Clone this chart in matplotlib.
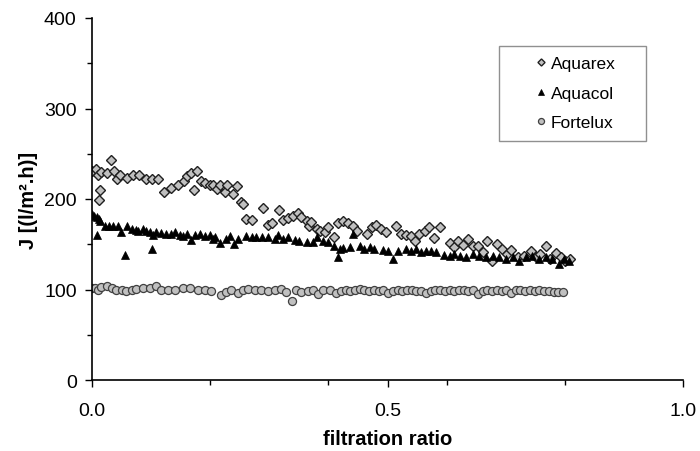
import matplotlib
matplotlib.use('Agg')
import matplotlib.pyplot as plt
from matplotlib.patches import Rectangle
from matplotlib.ticker import MultipleLocator

plt.rcParams['font.family'] = ['Liberation Sans', 'DejaVu Sans']

# filtration ratio / flux values
aquarex_x = [0.000, 0.007, 0.010, 0.011, 0.014, 0.016, 0.025, 0.032, 0.038, 0.042,
             0.047, 0.059, 0.070, 0.079, 0.091, 0.101, 0.112, 0.122, 0.133, 0.145,
             0.156, 0.160, 0.168, 0.173, 0.178, 0.185, 0.191, 0.199, 0.205, 0.211,
             0.216, 0.225, 0.229, 0.238, 0.246, 0.252, 0.256, 0.260, 0.271, 0.289,
             0.298, 0.305, 0.316, 0.323, 0.332, 0.340, 0.348, 0.354, 0.363, 0.368,
             0.371, 0.380, 0.385, 0.394, 0.399, 0.409, 0.416, 0.424, 0.433, 0.441,
             0.449, 0.465, 0.473, 0.481, 0.489, 0.498, 0.515, 0.523, 0.532, 0.539,
             0.547, 0.554, 0.563, 0.571, 0.579, 0.588, 0.605, 0.612, 0.620, 0.627,
             0.637, 0.644, 0.653, 0.661, 0.669, 0.676, 0.686, 0.694, 0.703, 0.709,
             0.720, 0.731, 0.743, 0.751, 0.758, 0.768, 0.775, 0.785, 0.793, 0.801,
             0.809]
aquarex_y = [231, 233, 226, 199, 210, 230, 229, 243, 231, 222,
             226, 223, 226, 226, 222, 222, 222, 208, 212, 215,
             220, 225, 229, 210, 231, 220, 218, 216, 215, 211,
             216, 208, 215, 206, 214, 197, 195, 178, 177, 190,
             171, 173, 188, 177, 179, 181, 185, 180, 176, 170,
             175, 167, 165, 163, 169, 158, 173, 176, 173, 170,
             165, 161, 169, 171, 167, 164, 170, 161, 160, 159,
             154, 161, 165, 169, 157, 169, 151, 147, 154, 149,
             156, 148, 148, 141, 154, 132, 150, 145, 139, 144,
             136, 137, 142, 136, 139, 148, 134, 140, 136, 132,
             134]

aquacol_x = [0.000, 0.004, 0.008, 0.009, 0.011, 0.014, 0.022, 0.029, 0.036, 0.044,
             0.049, 0.056, 0.060, 0.067, 0.074, 0.078, 0.087, 0.092, 0.098, 0.101,
             0.104, 0.108, 0.116, 0.126, 0.133, 0.140, 0.149, 0.154, 0.160, 0.168,
             0.174, 0.182, 0.191, 0.199, 0.205, 0.208, 0.216, 0.226, 0.233, 0.240,
             0.247, 0.261, 0.270, 0.278, 0.287, 0.298, 0.309, 0.315, 0.323, 0.332,
             0.343, 0.351, 0.363, 0.374, 0.380, 0.391, 0.399, 0.410, 0.416, 0.419,
             0.424, 0.436, 0.441, 0.453, 0.461, 0.470, 0.478, 0.492, 0.500, 0.509,
             0.517, 0.532, 0.540, 0.548, 0.557, 0.565, 0.574, 0.582, 0.596, 0.605,
             0.613, 0.622, 0.633, 0.644, 0.655, 0.667, 0.678, 0.689, 0.700, 0.712,
             0.723, 0.734, 0.745, 0.757, 0.768, 0.779, 0.791, 0.799, 0.807]
aquacol_y = [183, 181, 180, 160, 178, 176, 170, 170, 170, 170,
             164, 138, 170, 167, 166, 165, 167, 165, 164, 145,
             160, 164, 162, 161, 161, 164, 160, 159, 161, 155,
             160, 161, 159, 160, 156, 158, 151, 156, 159, 150,
             156, 159, 158, 158, 158, 158, 156, 160, 156, 158,
             155, 154, 153, 153, 158, 154, 152, 148, 136, 145,
             146, 147, 161, 148, 145, 147, 145, 144, 143, 134,
             143, 145, 142, 145, 141, 143, 142, 141, 138, 137,
             139, 137, 136, 139, 137, 136, 137, 136, 134, 136,
             132, 136, 137, 134, 136, 134, 128, 134, 132]

fortelux_x = [0.000, 0.005, 0.010, 0.016, 0.025, 0.033, 0.041, 0.050, 0.058, 0.067,
              0.075, 0.086, 0.098, 0.109, 0.117, 0.129, 0.140, 0.154, 0.165, 0.179,
              0.191, 0.202, 0.219, 0.227, 0.236, 0.247, 0.255, 0.264, 0.275, 0.286,
              0.298, 0.309, 0.320, 0.329, 0.338, 0.346, 0.354, 0.365, 0.374, 0.382,
              0.391, 0.402, 0.413, 0.421, 0.429, 0.437, 0.445, 0.453, 0.461, 0.469,
              0.477, 0.485, 0.493, 0.501, 0.509, 0.517, 0.525, 0.533, 0.541, 0.549,
              0.557, 0.565, 0.573, 0.581, 0.589, 0.597, 0.605, 0.613, 0.621, 0.629,
              0.637, 0.645, 0.653, 0.661, 0.669, 0.677, 0.685, 0.693, 0.701, 0.709,
              0.717, 0.725, 0.733, 0.741, 0.749, 0.757, 0.765, 0.773, 0.781, 0.789,
              0.797]
fortelux_y = [102, 102, 100, 103, 104, 102, 100, 99, 98, 100,
              101, 102, 102, 104, 99, 99, 100, 102, 102, 99,
              99, 98, 94, 97, 99, 96, 100, 101, 99, 99,
              98, 100, 101, 97, 87, 99, 97, 98, 100, 95,
              99, 99, 96, 98, 99, 98, 99, 101, 99, 98,
              99, 98, 99, 96, 98, 99, 98, 99, 99, 98,
              98, 96, 98, 99, 99, 98, 99, 98, 99, 99,
              98, 99, 95, 98, 99, 98, 99, 98, 99, 96,
              99, 99, 98, 99, 98, 99, 98, 98, 97, 97,
              97]

fig = plt.figure(figsize=(7, 4.52), dpi=100)
ax = fig.add_axes([92/700, 1-381/452, 591/700, 362/452])

ax.plot(aquarex_x, aquarex_y, 'D', ms=4.8, mfc='#c0c0c0', mec='#202020', mew=1.0,
        linestyle='none', label='Aquarex')
ax.plot(aquacol_x, aquacol_y, '^', ms=6.4, mfc='black', mec='black', mew=0.5,
        linestyle='none', label='Aquacol')
ax.plot(fortelux_x, fortelux_y, 'o', ms=5.8, mfc='#c0c0c0', mec='#404040', mew=0.9,
        linestyle='none', label='Fortelux')

ax.set_xlim(0, 1.0)
ax.set_ylim(0, 400)
ax.xaxis.set_major_locator(MultipleLocator(0.5))
ax.xaxis.set_minor_locator(MultipleLocator(0.2))
ax.yaxis.set_major_locator(MultipleLocator(100))
ax.yaxis.set_minor_locator(MultipleLocator(50))
ax.xaxis.set_major_formatter(plt.FormatStrFormatter('%.1f'))

for s in ['top', 'right']:
    ax.spines[s].set_visible(False)
for s in ['left', 'bottom']:
    ax.spines[s].set_linewidth(1.2)

ax.tick_params(axis='x', which='major', direction='out', length=5, width=1.0, labelsize=14, pad=11)
ax.tick_params(axis='x', which='minor', direction='out', length=3.5, width=1.0)
ax.tick_params(axis='y', which='major', direction='out', length=5, width=1.0, labelsize=14, pad=6)
ax.tick_params(axis='y', which='minor', direction='out', length=3.5, width=1.0)

ax.set_xlabel('filtration ratio', fontsize=14.5, fontweight='bold', labelpad=7)
ax.set_ylabel('J [(l/m\u00b2.h)]', fontsize=14.5, fontweight='bold', labelpad=4)

leg = fig.legend(loc='upper left', bbox_to_anchor=(532/700, 1-57/452), frameon=False,
                 fontsize=12.5, handlelength=1.0, handletextpad=0.1, borderpad=0,
                 borderaxespad=0, labelspacing=0.83, markerscale=0.75)
fig.patches.append(Rectangle((499/700, 1-142/452), 147/700, 95/452, transform=fig.transFigure,
                             fill=False, edgecolor='#909090', linewidth=1.0))

fig.savefig('out.png', dpi=100)
